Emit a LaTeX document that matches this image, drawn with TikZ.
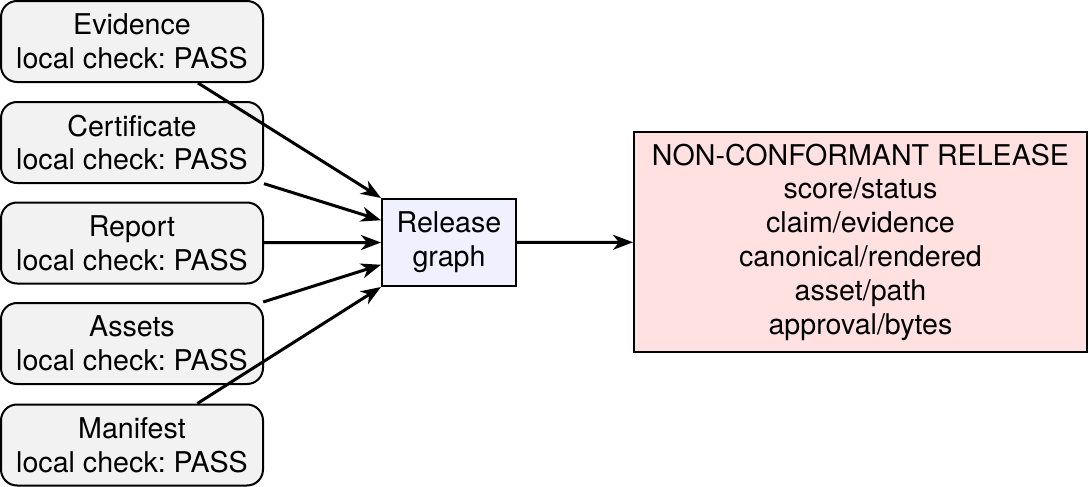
\documentclass[tikz,border=0pt]{standalone}
\usepackage{fontspec}
\setmainfont{TeX Gyre Heros}
\usetikzlibrary{arrows.meta,calc}
\definecolor{boxgray}{HTML}{F2F2F2}
\definecolor{relblue}{HTML}{F0F0FF}
\definecolor{outpink}{HTML}{FFE1E1}
\frenchspacing
\begin{document}
\begin{tikzpicture}[x=0.5pt,y=-0.5pt,
  every node/.style={font=\fontsize{14.3}{16.9}\selectfont, align=center, inner sep=0pt},
  srcbox/.style={draw=black, line width=1pt, fill=boxgray, rounded corners=8pt,
    minimum width=131pt, minimum height=40.5pt},
  relbox/.style={draw=black, line width=1pt, fill=relblue,
    minimum width=67pt, minimum height=43.5pt},
  outbox/.style={draw=black, line width=1pt, fill=outpink,
    minimum width=226.5pt, minimum height=110pt},
  conn/.style={line width=1.5pt, -{Stealth[length=10pt,width=7.5pt,inset=3pt]}}
]
\useasboundingbox (0,0) rectangle (1089,487);
\node[srcbox] (ev) at (132,41.5) {Evidence\\local check: PASS};
\node[srcbox] (ce) at (132,142.5) {Certificate\\local check: PASS};
\node[srcbox] (re) at (132,243) {Report\\local check: PASS};
\node[srcbox] (as) at (132,343.5) {Assets\\local check: PASS};
\node[srcbox] (ma) at (132,445) {Manifest\\local check: PASS};
\node[relbox] (rg) at (449,242.5) {Release\\graph};
\node[outbox] (out) at (860.5,242) {NON-CONFORMANT RELEASE\\score/status\\claim/evidence\\canonical/rendered\\asset/path\\approval/bytes};
\coordinate (t1) at (rg.north west);
\coordinate (t2) at ($(rg.north west)!0.25!(rg.south west)$);
\coordinate (t3) at (rg.west);
\coordinate (t4) at ($(rg.north west)!0.75!(rg.south west)$);
\coordinate (t5) at (rg.south west);
\draw[conn] (ev) -- (t1);
\draw[conn] (ce) -- (t2);
\draw[conn] (re) -- (t3);
\draw[conn] (as) -- (t4);
\draw[conn] (ma) -- (t5);
\draw[conn] (rg) -- (out);
\end{tikzpicture}
\end{document}
